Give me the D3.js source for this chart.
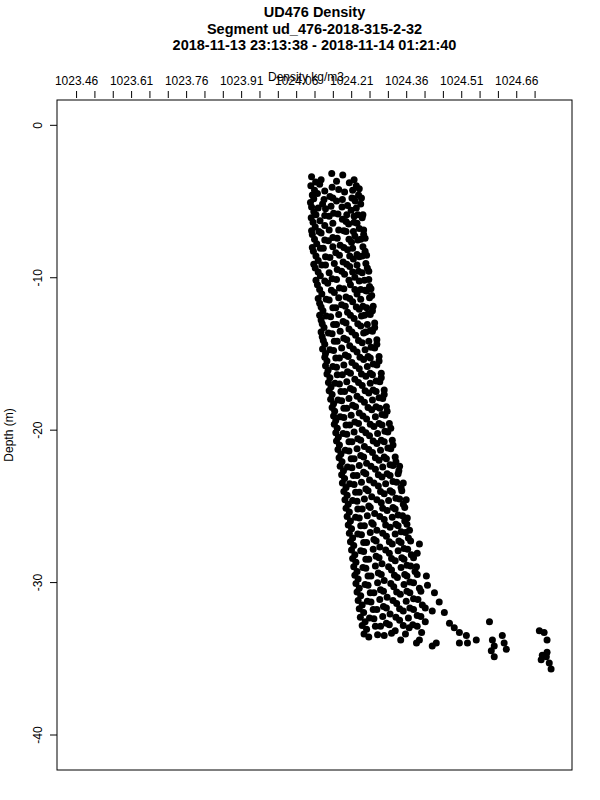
<!DOCTYPE html>
<html>
<head>
<meta charset="utf-8">
<script src="https://cdn.jsdelivr.net/npm/d3@7"></script>
<style>
  body { margin: 0; background: #fff; }
  svg { display: block; font-family: "Liberation Sans", Arial, sans-serif; }
</style>
</head>
<body>
<div id="chart"></div>
<script>
// Titles and labels
const titleLines = [
  "UD476 Density",
  "Segment ud_476-2018-315-2-32",
  "2018-11-13 23:13:38 - 2018-11-14 01:21:40"
];
const xLabel = "Density kg/m3";
const yLabel = "Depth (m)";

// Axis ticks (density every 0.05, labelled every 0.15)
const xTicks = [1023.46, 1023.51, 1023.56, 1023.61, 1023.66, 1023.71, 1023.76, 1023.81, 1023.86,
  1023.91, 1023.96, 1024.01, 1024.06, 1024.11, 1024.16, 1024.21, 1024.26, 1024.31, 1024.36,
  1024.41, 1024.46, 1024.51, 1024.56, 1024.61, 1024.66, 1024.71];
const xTickLabels = ["1023.46", "1023.61", "1023.76", "1023.91", "1024.06", "1024.21", "1024.36", "1024.51", "1024.66"];
const yTicks = [0, -10, -20, -30, -40];

// Axis limits (R style, 4% padding)
const xLimits = [1023.46, 1024.76];
const yLimits = [-40.7, 0];

// [depth, density]
const bandPoints = [
  [-3.4,1024.102],[-3.2,1024.157],[-3.3,1024.187],[-3.6,1024.128],
  [-4.0,1024.100],[-3.9,1024.124],[-4.1,1024.158],[-3.8,1024.205],[-4.0,1024.224],[-4.2,1024.232],
  [-4.6,1024.104],[-4.5,1024.118],[-4.7,1024.152],[-4.4,1024.192],[-4.8,1024.212],[-4.6,1024.230],
  [-5.1,1024.099],[-5.2,1024.132],[-5.0,1024.170],[-5.3,1024.200],[-5.0,1024.221],[-5.2,1024.236],
  [-5.7,1024.108],[-5.5,1024.140],[-5.8,1024.162],[-5.6,1024.210],[-5.9,1024.228],
  [-6.1,1024.101],[-6.3,1024.125],[-6.0,1024.150],[-6.2,1024.186],[-6.4,1024.218],[-6.1,1024.240],
  [-6.7,1024.112],[-6.6,1024.138],[-6.9,1024.176],[-6.5,1024.203],[-6.8,1024.232],
  [-7.2,1024.104],[-7.1,1024.128],[-7.4,1024.160],[-7.0,1024.196],[-7.3,1024.220],[-7.2,1024.244],
  [-7.8,1024.116],[-7.6,1024.148],[-7.9,1024.180],[-7.7,1024.211],[-7.5,1024.236],
  [-8.3,1024.107],[-8.1,1024.134],[-8.4,1024.168],[-8.2,1024.200],[-8.5,1024.226],[-8.3,1024.248],
  [-8.9,1024.120],[-8.7,1024.152],[-9.0,1024.188],[-8.8,1024.216],[-8.6,1024.240],
  [-9.4,1024.112],[-9.2,1024.140],[-9.5,1024.172],[-9.3,1024.206],[-9.6,1024.230],[-9.4,1024.254],
  [-9.9,1024.126],[-10.1,1024.158],[-9.8,1024.192],[-10.0,1024.220],[-10.2,1024.246],
  [-10.5,1024.118],[-10.4,1024.146],[-10.7,1024.178],[-10.5,1024.208],[-10.8,1024.236],[-10.6,1024.260],
  [-11.1,1024.130],[-11.0,1024.164],[-11.3,1024.196],[-11.1,1024.226],[-10.9,1024.252],[-11.2,1024.266],
  [-11.7,1024.124],[-11.5,1024.150],[-11.8,1024.184],[-11.6,1024.214],[-11.9,1024.242],
  [-12.2,1024.133],[-12.0,1024.168],[-12.3,1024.200],[-12.1,1024.232],[-12.4,1024.256],[-12.2,1024.268],
  [-12.8,1024.128],[-12.6,1024.154],[-12.9,1024.188],[-12.7,1024.218],[-12.5,1024.246],
  [-13.3,1024.136],[-13.1,1024.170],[-13.4,1024.204],[-13.2,1024.236],[-13.5,1024.262],[-13.3,1024.274],
  [-13.9,1024.131],[-13.7,1024.158],[-14.0,1024.190],[-13.8,1024.222],[-13.6,1024.250],
  [-14.4,1024.138],[-14.2,1024.172],[-14.5,1024.206],[-14.3,1024.240],[-14.6,1024.264],[-14.4,1024.280],
  [-15.0,1024.140],[-14.8,1024.162],[-15.1,1024.194],[-14.9,1024.226],[-15.2,1024.256],
  [-15.5,1024.144],[-15.3,1024.178],[-15.6,1024.212],[-15.4,1024.244],[-15.7,1024.270],[-15.5,1024.286],
  [-16.1,1024.147],[-15.9,1024.170],[-16.2,1024.200],[-16.0,1024.232],[-16.3,1024.262],
  [-16.6,1024.152],[-16.4,1024.186],[-16.7,1024.220],[-16.5,1024.250],[-16.8,1024.278],[-16.6,1024.292],
  [-17.2,1024.155],[-17.0,1024.178],[-17.3,1024.208],[-17.1,1024.240],[-17.4,1024.270],
  [-17.7,1024.158],[-17.5,1024.192],[-17.8,1024.226],[-17.6,1024.258],[-17.9,1024.286],[-17.7,1024.300],
  [-18.3,1024.162],[-18.1,1024.184],[-18.4,1024.214],[-18.2,1024.246],[-18.5,1024.278],
  [-18.8,1024.165],[-18.6,1024.198],[-18.9,1024.232],[-18.7,1024.266],[-19.0,1024.294],[-18.8,1024.308],
  [-19.4,1024.168],[-19.2,1024.190],[-19.5,1024.220],[-19.3,1024.252],[-19.6,1024.286],
  [-19.9,1024.172],[-19.7,1024.206],[-20.0,1024.240],[-19.8,1024.272],[-20.1,1024.302],[-19.9,1024.318],
  [-20.5,1024.175],[-20.3,1024.198],[-20.6,1024.228],[-20.4,1024.260],[-20.7,1024.292],
  [-21.0,1024.178],[-20.8,1024.212],[-21.1,1024.246],[-20.9,1024.280],[-21.2,1024.310],[-21.0,1024.324],
  [-21.6,1024.182],[-21.4,1024.204],[-21.7,1024.236],[-21.5,1024.268],[-21.8,1024.300],
  [-22.1,1024.185],[-21.9,1024.218],[-22.2,1024.252],[-22.0,1024.286],[-22.3,1024.316],[-22.1,1024.332],
  [-22.7,1024.189],[-22.5,1024.212],[-22.8,1024.244],[-22.6,1024.276],[-22.9,1024.308],[-22.7,1024.340],
  [-23.2,1024.192],[-23.0,1024.226],[-23.3,1024.260],[-23.1,1024.294],[-23.4,1024.324],
  [-23.8,1024.196],[-23.6,1024.218],[-23.9,1024.250],[-23.7,1024.284],[-24.0,1024.316],[-23.8,1024.346],
  [-24.3,1024.199],[-24.1,1024.232],[-24.4,1024.266],[-24.2,1024.300],[-24.5,1024.332],
  [-24.9,1024.202],[-24.7,1024.226],[-25.0,1024.258],[-24.8,1024.292],[-25.1,1024.324],[-24.9,1024.352],
  [-25.4,1024.205],[-25.2,1024.240],[-25.5,1024.274],[-25.3,1024.308],[-25.6,1024.338],
  [-26.0,1024.208],[-25.8,1024.232],[-26.1,1024.266],[-25.9,1024.300],[-26.2,1024.332],[-26.0,1024.356],
  [-26.5,1024.211],[-26.3,1024.246],[-26.6,1024.280],[-26.4,1024.316],[-26.7,1024.346],
  [-27.1,1024.214],[-26.9,1024.238],[-27.2,1024.272],[-27.0,1024.306],[-27.3,1024.340],[-27.1,1024.366],
  [-27.6,1024.217],[-27.4,1024.252],[-27.7,1024.288],[-27.5,1024.322],[-27.8,1024.354],
  [-28.2,1024.220],[-28.0,1024.244],[-28.3,1024.278],[-28.1,1024.314],[-28.4,1024.348],[-28.2,1024.374],
  [-28.7,1024.223],[-28.5,1024.258],[-28.8,1024.294],[-28.6,1024.330],[-28.9,1024.362],
  [-29.3,1024.226],[-29.1,1024.250],[-29.4,1024.284],[-29.2,1024.320],[-29.5,1024.356],[-29.3,1024.384],
  [-29.8,1024.229],[-29.6,1024.264],[-29.9,1024.300],[-29.7,1024.336],[-30.0,1024.370],
  [-30.4,1024.232],[-30.2,1024.256],[-30.5,1024.290],[-30.3,1024.326],[-30.6,1024.362],[-30.4,1024.396],
  [-30.9,1024.236],[-30.7,1024.272],[-31.0,1024.308],[-30.8,1024.344],[-31.1,1024.380],
  [-31.5,1024.240],[-31.3,1024.264],[-31.6,1024.298],[-31.4,1024.334],[-31.7,1024.370],[-31.5,1024.404],
  [-32.0,1024.244],[-31.8,1024.280],[-32.1,1024.316],[-31.9,1024.352],[-32.2,1024.390],
  [-32.6,1024.248],[-32.4,1024.272],[-32.7,1024.306],[-32.5,1024.342],[-32.8,1024.378],[-32.6,1024.412],
  [-33.1,1024.252],[-32.9,1024.290],[-33.2,1024.330],[-33.0,1024.368],[-33.3,1024.402],
  [-33.6,1024.258],[-33.5,1024.300],[-33.8,1024.345]
];

// [depth, density] more cloud points lying between the rows above
const bandPointsFill = [
  [-3.75,1024.113],[-3.7,1024.170],[-3.6,1024.218],
  [-4.3,1024.110],[-4.35,1024.138],[-4.25,1024.176],[-4.3,1024.214],
  [-4.85,1024.108],[-4.9,1024.136],[-4.8,1024.160],[-4.9,1024.186],[-4.85,1024.218],[-4.8,1024.238],
  [-5.4,1024.102],[-5.45,1024.120],[-5.35,1024.155],[-5.4,1024.185],[-5.45,1024.224],
  [-5.9,1024.114],[-5.95,1024.138],[-5.85,1024.174],[-5.9,1024.198],[-6.0,1024.218],[-5.9,1024.242],
  [-6.4,1024.106],[-6.45,1024.160],[-6.35,1024.196],[-6.45,1024.226],
  [-6.95,1024.102],[-7.0,1024.122],[-6.9,1024.150],[-6.95,1024.190],[-7.0,1024.216],[-6.9,1024.244],
  [-7.5,1024.110],[-7.55,1024.138],[-7.45,1024.172],[-7.5,1024.204],[-7.55,1024.228],[-7.45,1024.248],
  [-8.05,1024.104],[-8.1,1024.126],[-8.0,1024.160],[-8.05,1024.190],[-8.1,1024.214],[-8.0,1024.242],
  [-8.6,1024.114],[-8.65,1024.140],[-8.55,1024.178],[-8.6,1024.206],[-8.65,1024.232],[-8.55,1024.252],
  [-9.15,1024.108],[-9.2,1024.130],[-9.1,1024.164],[-9.15,1024.198],[-9.2,1024.226],[-9.1,1024.250],
  [-9.65,1024.120],[-9.7,1024.150],[-9.6,1024.184],[-9.65,1024.214],[-9.7,1024.240],[-9.6,1024.258],
  [-10.2,1024.114],[-10.25,1024.138],[-10.15,1024.170],[-10.2,1024.204],[-10.25,1024.232],[-10.15,1024.258],
  [-10.8,1024.124],[-10.85,1024.156],[-10.75,1024.190],[-10.8,1024.220],[-10.85,1024.248],[-10.75,1024.264],
  [-11.4,1024.120],[-11.45,1024.142],[-11.35,1024.176],[-11.4,1024.206],[-11.45,1024.236],[-11.35,1024.260],
  [-11.95,1024.128],[-12.0,1024.160],[-11.9,1024.194],[-11.95,1024.224],[-12.0,1024.252],[-11.9,1024.270],
  [-12.5,1024.124],[-12.55,1024.142],[-12.45,1024.176],[-12.5,1024.208],[-12.55,1024.238],[-12.45,1024.262],
  [-13.05,1024.131],[-13.1,1024.162],[-13.0,1024.196],[-13.05,1024.228],[-13.1,1024.254],[-13.0,1024.274],
  [-13.6,1024.128],[-13.65,1024.148],[-13.55,1024.180],[-13.6,1024.212],[-13.65,1024.244],[-13.55,1024.268],
  [-14.15,1024.134],[-14.2,1024.164],[-14.1,1024.198],[-14.15,1024.230],[-14.2,1024.258],[-14.1,1024.280],
  [-14.7,1024.132],[-14.75,1024.152],[-14.65,1024.184],[-14.7,1024.216],[-14.75,1024.248],[-14.65,1024.274],
  [-15.25,1024.138],[-15.3,1024.168],[-15.2,1024.202],[-15.25,1024.234],[-15.3,1024.262],[-15.2,1024.286],
  [-15.8,1024.140],[-15.85,1024.160],[-15.75,1024.190],[-15.8,1024.222],[-15.85,1024.254],[-15.75,1024.280],
  [-16.35,1024.144],[-16.4,1024.172],[-16.3,1024.208],[-16.35,1024.238],[-16.4,1024.268],[-16.3,1024.292],
  [-16.9,1024.148],[-16.95,1024.166],[-16.85,1024.198],[-16.9,1024.230],[-16.95,1024.262],[-16.85,1024.288],
  [-17.45,1024.150],[-17.5,1024.182],[-17.4,1024.216],[-17.45,1024.248],[-17.5,1024.278],[-17.4,1024.300],
  [-18.0,1024.154],[-18.05,1024.174],[-17.95,1024.204],[-18.0,1024.236],[-18.05,1024.268],[-17.95,1024.296],
  [-18.55,1024.158],[-18.6,1024.190],[-18.5,1024.222],[-18.55,1024.256],[-18.6,1024.288],[-18.5,1024.306],
  [-19.1,1024.162],[-19.15,1024.180],[-19.05,1024.210],[-19.1,1024.242],[-19.15,1024.276],[-19.05,1024.302],
  [-19.65,1024.164],[-19.7,1024.196],[-19.6,1024.230],[-19.65,1024.262],[-19.7,1024.294],[-19.6,1024.314],
  [-20.2,1024.168],[-20.25,1024.188],[-20.15,1024.218],[-20.2,1024.250],[-20.25,1024.282],[-20.15,1024.310],
  [-20.75,1024.170],[-20.8,1024.204],[-20.7,1024.236],[-20.75,1024.270],[-20.8,1024.300],[-20.7,1024.322],
  [-21.3,1024.174],[-21.35,1024.194],[-21.25,1024.226],[-21.3,1024.258],[-21.35,1024.290],[-21.25,1024.318],
  [-21.85,1024.177],[-21.9,1024.210],[-21.8,1024.244],[-21.85,1024.276],[-21.9,1024.306],[-21.8,1024.330],
  [-22.4,1024.180],[-22.45,1024.200],[-22.35,1024.232],[-22.4,1024.264],[-22.45,1024.296],[-22.35,1024.324],[-22.4,1024.342],
  [-22.95,1024.184],[-23.0,1024.216],[-22.9,1024.250],[-22.95,1024.284],[-23.0,1024.316],[-22.9,1024.338],
  [-23.5,1024.186],[-23.55,1024.206],[-23.45,1024.238],[-23.5,1024.272],[-23.55,1024.304],[-23.45,1024.334],[-23.5,1024.352],
  [-24.05,1024.190],[-24.1,1024.222],[-24.0,1024.256],[-24.05,1024.290],[-24.1,1024.322],[-24.0,1024.348],
  [-24.6,1024.193],[-24.65,1024.214],[-24.55,1024.246],[-24.6,1024.280],[-24.65,1024.312],[-24.55,1024.342],[-24.6,1024.360],
  [-25.15,1024.196],[-25.2,1024.228],[-25.1,1024.262],[-25.15,1024.296],[-25.2,1024.330],[-25.1,1024.356],
  [-25.7,1024.199],[-25.75,1024.222],[-25.65,1024.254],[-25.7,1024.288],[-25.75,1024.322],[-25.65,1024.350],
  [-26.25,1024.202],[-26.3,1024.236],[-26.2,1024.270],[-26.25,1024.304],[-26.3,1024.338],[-26.2,1024.362],
  [-26.8,1024.205],[-26.85,1024.228],[-26.75,1024.262],[-26.8,1024.296],[-26.85,1024.330],[-26.75,1024.358],
  [-27.35,1024.208],[-27.4,1024.244],[-27.3,1024.278],[-27.35,1024.314],[-27.4,1024.346],[-27.3,1024.372],
  [-27.9,1024.211],[-27.95,1024.236],[-27.85,1024.270],[-27.9,1024.304],[-27.95,1024.338],[-27.85,1024.364],
  [-28.45,1024.214],[-28.5,1024.250],[-28.4,1024.286],[-28.45,1024.320],[-28.5,1024.354],[-28.4,1024.380],
  [-29.0,1024.217],[-29.05,1024.242],[-28.95,1024.276],[-29.0,1024.312],[-29.05,1024.346],[-28.95,1024.372],
  [-29.55,1024.220],[-29.6,1024.256],[-29.5,1024.292],[-29.55,1024.328],[-29.6,1024.362],[-29.5,1024.390],
  [-30.1,1024.223],[-30.15,1024.248],[-30.05,1024.282],[-30.1,1024.318],[-30.15,1024.354],[-30.05,1024.380],
  [-30.65,1024.226],[-30.7,1024.262],[-30.6,1024.298],[-30.65,1024.334],[-30.7,1024.370],[-30.6,1024.400],
  [-31.2,1024.229],[-31.25,1024.254],[-31.15,1024.288],[-31.2,1024.324],[-31.25,1024.360],[-31.15,1024.392],
  [-31.75,1024.232],[-31.8,1024.270],[-31.7,1024.306],[-31.75,1024.342],[-31.8,1024.380],[-31.7,1024.412],
  [-32.3,1024.235],[-32.35,1024.260],[-32.25,1024.296],[-32.3,1024.332],[-32.35,1024.366],[-32.25,1024.400],
  [-32.85,1024.240],[-32.9,1024.276],[-32.8,1024.314],[-32.85,1024.352],[-32.9,1024.390],
  [-33.4,1024.245],[-33.45,1024.282],[-33.35,1024.320],[-33.4,1024.358]
];

// [depth, density] scattered points on the right and the deep tail
const tailPoints = [
  [-25.8,1024.363],[-26.6,1024.369],[-27.5,1024.396],[-28.1,1024.390],[-29.0,1024.388],
  [-29.6,1024.415],[-30.2,1024.418],[-30.7,1024.437],[-31.3,1024.450],[-32.0,1024.464],
  [-31.9,1024.431],[-32.7,1024.478],[-33.0,1024.491],[-33.3,1024.505],[-33.5,1024.524],
  [-33.8,1024.551],[-34.0,1024.527],[-34.0,1024.505],[-34.0,1024.442],[-34.2,1024.431],
  [-33.8,1024.396],[-34.0,1024.388],
  [-32.6,1024.587],[-33.8,1024.595],[-34.2,1024.600],[-34.5,1024.592],[-33.5,1024.622],
  [-34.0,1024.627],[-34.4,1024.633],[-34.9,1024.600],
  [-33.2,1024.723],[-33.3,1024.736],[-33.8,1024.744],[-34.6,1024.744],[-34.8,1024.731],
  [-35.1,1024.728],[-35.3,1024.750],[-35.7,1024.755],[-34.9,1024.742]
];

// Layout
const width = 600;
const height = 800;
const plotLeft = 57;
const plotRight = 572;
const plotTop = 100;
const plotBottom = 770;

function pad(lim) {
  const r = lim[1] - lim[0];
  return [lim[0] - 0.04 * r, lim[1] + 0.04 * r];
}

const x = d3.scaleLinear().domain(pad(xLimits)).range([plotLeft, plotRight]);
const y = d3.scaleLinear().domain(pad(yLimits)).range([plotBottom, plotTop]);

const svg = d3.select("#chart")
  .append("svg")
  .attr("width", width)
  .attr("height", height)
  .attr("viewBox", [0, 0, width, height]);

svg.append("rect").attr("width", width).attr("height", height).attr("fill", "#fff");

// Title (three bold lines)
svg.append("g")
  .selectAll("text")
  .data(titleLines)
  .join("text")
  .attr("x", (plotLeft + plotRight) / 2)
  .attr("y", (d, i) => 17 + i * 16.5)
  .attr("text-anchor", "middle")
  .style("font-size", "14.5px")
  .style("font-weight", "bold")
  .text(d => d);

// Top axis: ticks only, no axis line
const xAxis = svg.append("g")
  .attr("transform", `translate(0,${plotTop - 2})`)
  .call(d3.axisTop(x)
    .tickValues(xTicks)
    .tickSize(7)
    .tickPadding(6)
    .tickFormat(d => xTickLabels.includes(d.toFixed(2)) ? d.toFixed(2) : ""));

// Left axis
const yAxis = svg.append("g")
  .attr("transform", `translate(${plotLeft},0)`)
  .call(d3.axisLeft(y).tickValues(yTicks).tickSize(7).tickFormat(d => d));

[xAxis, yAxis].forEach(axis => {
  axis.select(".domain").remove();
  axis.selectAll(".tick line").attr("stroke", "#000");
  axis.selectAll(".tick text")
    .attr("fill", "#000")
    .style("font-family", "\"Liberation Sans\", Arial, sans-serif")
    .style("font-size", "12px");
});

// y tick labels parallel to the axis
yAxis.selectAll(".tick text")
  .attr("x", null)
  .attr("dy", null)
  .attr("text-anchor", "middle")
  .attr("transform", "translate(-15,0) rotate(-90)");

// Plot box
svg.append("rect")
  .attr("x", plotLeft)
  .attr("y", plotTop)
  .attr("width", plotRight - plotLeft)
  .attr("height", plotBottom - plotTop)
  .attr("fill", "none")
  .attr("stroke", "#000");

// Axis labels (R puts this one on the tick label line, as in the original)
svg.append("text")
  .attr("x", 306)
  .attr("y", 81)
  .attr("text-anchor", "middle")
  .style("font-size", "12px")
  .text(xLabel);

svg.append("text")
  .attr("transform", `translate(13,${(plotTop + plotBottom) / 2}) rotate(-90)`)
  .attr("text-anchor", "middle")
  .style("font-size", "12px")
  .text(yLabel);

// Points
svg.append("g")
  .selectAll("circle")
  .data(bandPoints.concat(bandPointsFill, tailPoints))
  .join("circle")
  .attr("cx", d => x(d[1]))
  .attr("cy", d => y(d[0]))
  .attr("r", 3.5)
  .attr("fill", "#000");
</script>
</body>
</html>
